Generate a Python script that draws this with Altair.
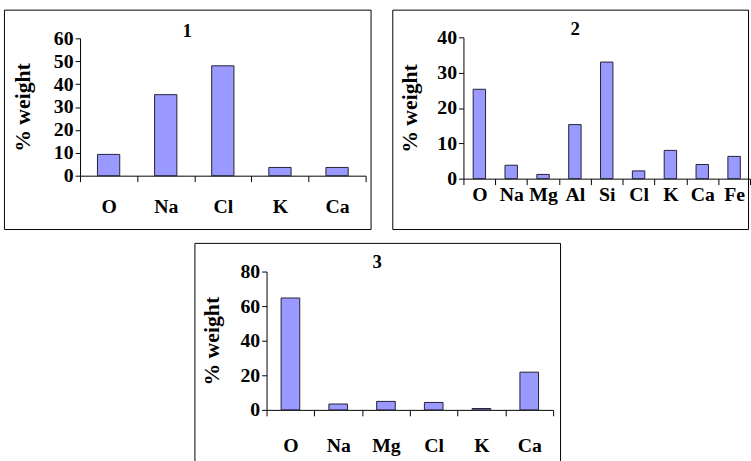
import altair as alt
import pandas as pd

# ---- data ----
el1 = ["O", "Na", "Cl", "K", "Ca"]
val1 = [9.3, 35.4, 48.0, 3.6, 3.6]
ticks1 = [0, 10, 20, 30, 40, 50, 60]

el2 = ["O", "Na", "Mg", "Al", "Si", "Cl", "K", "Ca", "Fe"]
val2 = [25.3, 3.8, 1.2, 15.3, 33.0, 2.2, 8.0, 4.0, 6.3]
ticks2 = [0, 10, 20, 30, 40]

el3 = ["O", "Na", "Mg", "Cl", "K", "Ca"]
val3 = [64.7, 3.4, 4.9, 4.3, 0.8, 21.8]
ticks3 = [0, 20, 40, 60, 80]

FONT = "Liberation Serif"


def panel(name, els, vals, ticks, W, H, xr, yr, xlabpad, ytitlepad, title_off, title_dx):
    df = pd.DataFrame({"element": els, "weight": vals})
    x0, x1 = xr
    y0, ytop = yr
    return (
        alt.Chart(df)
        .mark_bar(fill="#9999FF", stroke="#222233", strokeWidth=1,
                  width=alt.RelativeBandSize(0.39))
        .encode(
            x=alt.X("element:N", sort=els,
                    scale=alt.Scale(range=[x0, x1], paddingInner=0, paddingOuter=0),
                    axis=alt.Axis(title=None, labelAngle=0, tickBand="extent", grid=False,
                                  offset=-(H - y0), tickSize=6, labelPadding=xlabpad,
                                  labelFont=FONT, labelFontSize=20, labelFontWeight="bold",
                                  labelColor="black", domainColor="black", tickColor="black")),
            y=alt.Y("weight:Q",
                    scale=alt.Scale(domain=[ticks[0], ticks[-1]], range=[y0, ytop], nice=False),
                    axis=alt.Axis(values=ticks, offset=-x0, title="% weight", tickSize=5,
                                  grid=False, labelPadding=2, labelFont=FONT, labelFontSize=20,
                                  labelFontWeight="bold", labelColor="black",
                                  titleFont=FONT, titleFontSize=22, titleFontWeight="bold",
                                  titleColor="black", titlePadding=ytitlepad,
                                  domainColor="black", tickColor="black")),
        )
        .properties(width=W, height=H,
                    title=alt.TitleParams(name, offset=title_off, frame="group", dx=title_dx,
                                          font=FONT, fontSize=19, fontWeight="bold",
                                          color="black", baseline="middle"))
    )


p1 = panel("1", el1, val1, ticks1, 371, 222, (77, 366), (168, 29), 15, 19, -41, 0)
p2 = panel("2", el2, val2, ticks2, 360, 222, (72, 362), (171, 28), 0, 15, -39, 5)
p3 = panel("3", el3, val3, ticks3, 370, 222, (73, 363), (169, 29), 20, 17, -38, 0)

chart = (
    alt.vconcat(alt.hconcat(p1, p2, spacing=20), p3, spacing=12, center=True)
    .configure_view(stroke="black", strokeWidth=1)
    .properties(padding={"left": 3, "top": 6, "right": 0, "bottom": 0}, background="white")
)

chart.save("out.html", embed_options={"renderer": "svg", "actions": False})
